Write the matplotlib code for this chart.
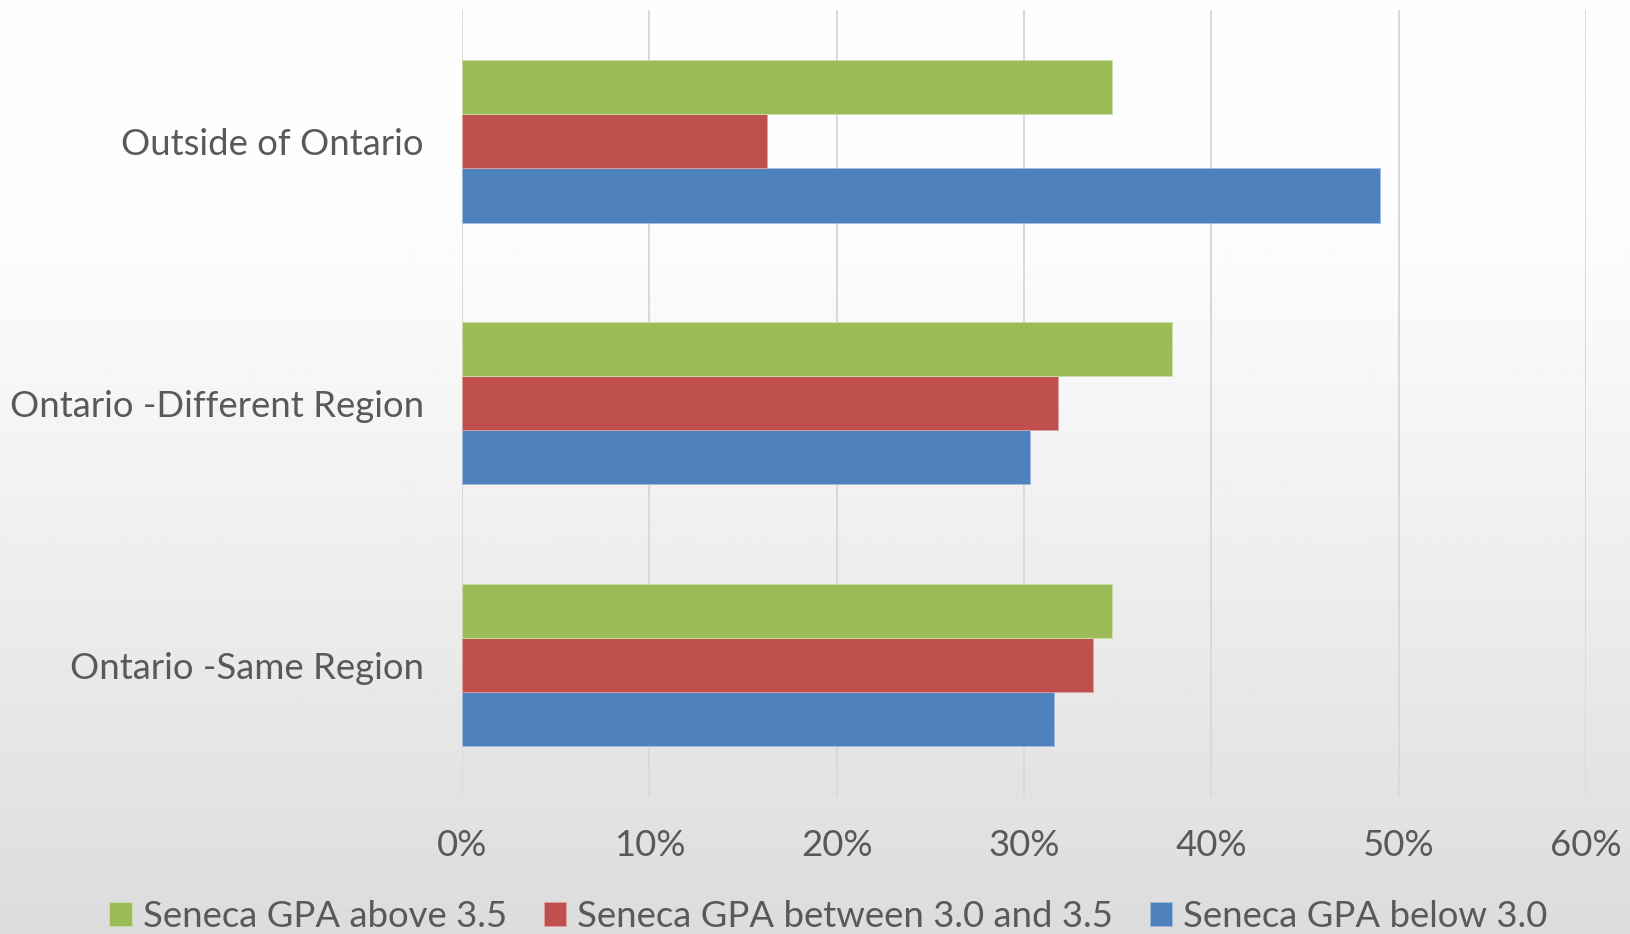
import numpy as np
import matplotlib
matplotlib.use("Agg")
import matplotlib.pyplot as plt
from matplotlib.ticker import FuncFormatter

plt.rcParams['font.family'] = ['Lato', 'DejaVu Sans']

# categories bottom -> top
categories = ["Ontario -Same Region", "Ontario -Different Region", "Outside of Ontario"]
below_30 = [0.316, 0.303, 0.490]
between_30_35 = [0.337, 0.318, 0.163]
above_35 = [0.347, 0.379, 0.347]
series_names = ["Seneca GPA above 3.5", "Seneca GPA between 3.0 and 3.5", "Seneca GPA below 3.0"]
xticks = [0, 0.1, 0.2, 0.3, 0.4, 0.5, 0.6]

text_col = "#595959"
fs = 26.3

fig = plt.figure(figsize=(16.31, 9.34), dpi=100)

# background gradient, white at top to light grey at bottom
bg = fig.add_axes([0, 0, 1, 1], zorder=-10)
t = np.linspace(0, 1, 400)
shade = 254 - 34 * np.clip((t - 0.2) / 0.8, 0, 1) ** 1.1
grad = np.repeat(shade[:, None], 2, axis=1) / 255.0
bg.imshow(grad, cmap="gray", vmin=0, vmax=1, aspect="auto", extent=[0, 1, 0, 1])
bg.axis("off")

ax = fig.add_axes([0.2833, 0.1478, 0.9724 - 0.2833, 0.9889 - 0.1478])
ax.set_facecolor("none")

y = np.arange(len(categories))
h = 0.207
ax.barh(y - h, below_30, height=h, color="#4F81BD", edgecolor="#9fbbe0", linewidth=0.6,
        label=series_names[2], zorder=3)
ax.barh(y, between_30_35, height=h, color="#C0504D", edgecolor="#e0a3a1", linewidth=0.6,
        label=series_names[1], zorder=3)
ax.barh(y + h, above_35, height=h, color="#9BBB59", edgecolor="#cde0a8", linewidth=0.6,
        label=series_names[0], zorder=3)

ax.set_xlim(0, 0.6)
ax.set_ylim(-0.5, 2.5)
ax.set_xticks(xticks)
ax.xaxis.set_major_formatter(FuncFormatter(lambda v, p: "{:.0f}%".format(v * 100)))
ax.set_yticks(y)
ax.set_yticklabels(categories)
ax.grid(axis="x", color="#d9d9d9", linewidth=1.4, zorder=0)
for s in ax.spines.values():
    s.set_visible(False)
ax.tick_params(axis="both", length=0, labelsize=fs, labelcolor=text_col)
ax.tick_params(axis="x", pad=24)
ax.tick_params(axis="y", pad=27.5)

handles, labels = ax.get_legend_handles_labels()
leg = fig.legend(handles[::-1], labels[::-1], loc="center", bbox_to_anchor=(0.508, 0.019),
                 ncol=3, frameon=False, fontsize=fs, labelcolor=text_col,
                 handlelength=0.62, handleheight=0.62, handletextpad=0.3,
                 columnspacing=1.0, borderaxespad=0, borderpad=0)

fig.savefig("out.png", dpi=100)
